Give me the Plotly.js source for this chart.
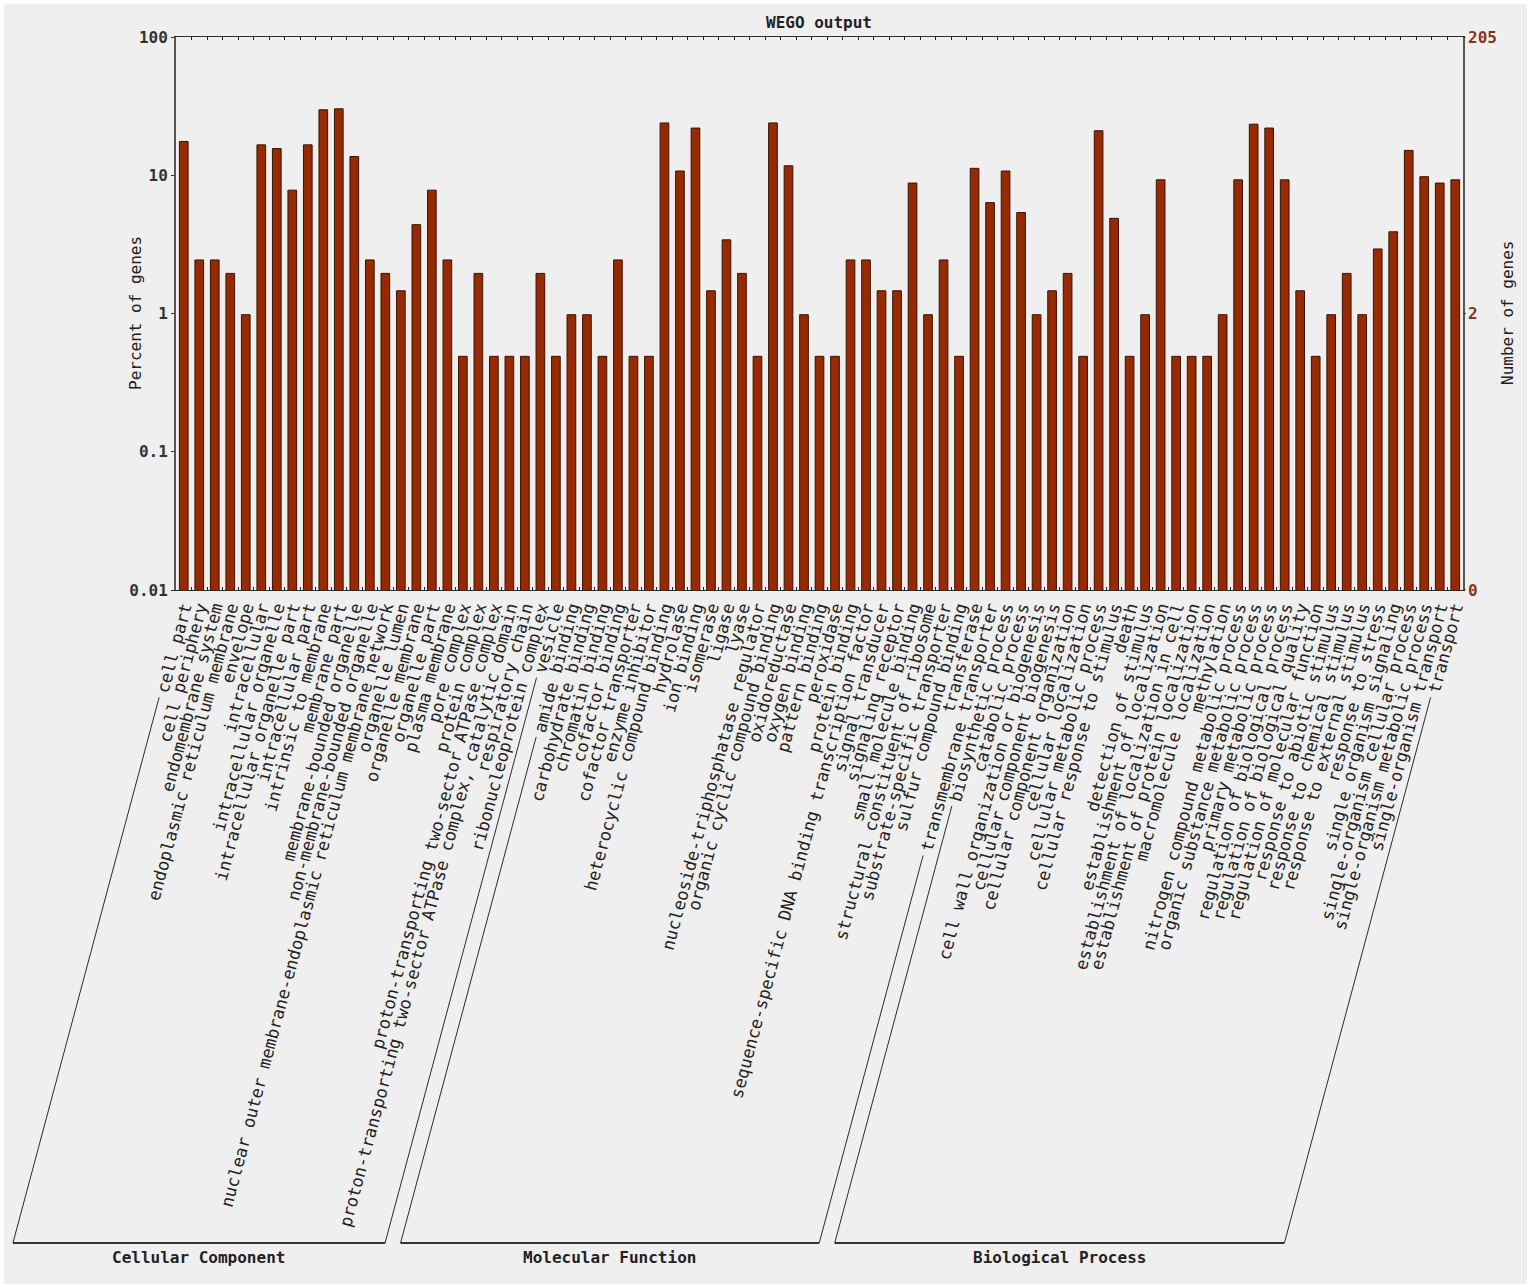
<!DOCTYPE html>
<html>
<head>
<meta charset="utf-8">
<title>WEGO output</title>
<script src="https://cdn.plot.ly/plotly-3.0.1.min.js"></script>
<style>
  html, body { margin: 0; padding: 0; background: #ffffff; }
  #wrap { position: relative; width: 1532px; height: 1287px; background: #ffffff; }
  #chart { position: absolute; left: 4px; top: 4px; width: 1523px; height: 1280px; }
</style>
</head>
<body>
<div id="wrap"><div id="chart"></div></div>
<script>
// GO terms per category, in the order WEGO drew them
const ccTerms = [
  "cell part", "cell periphery", "endomembrane system", "endoplasmic reticulum membrane",
  "envelope", "intracellular", "intracellular organelle", "intracellular organelle part",
  "intracellular part", "intrinsic to membrane", "membrane part", "membrane-bounded organelle",
  "non-membrane-bounded organelle", "nuclear outer membrane-endoplasmic reticulum membrane network",
  "organelle lumen", "organelle membrane", "organelle part", "plasma membrane", "pore complex",
  "protein complex", "proton-transporting two-sector ATPase complex",
  "proton-transporting two-sector ATPase complex, catalytic domain", "respiratory chain",
  "ribonucleoprotein complex", "vesicle",
];
const mfTerms = [
  "amide binding", "carbohydrate binding", "chromatin binding", "cofactor binding",
  "cofactor transporter", "enzyme inhibitor", "heterocyclic compound binding", "hydrolase",
  "ion binding", "isomerase", "ligase", "lyase", "nucleoside-triphosphatase regulator",
  "organic cyclic compound binding", "oxidoreductase", "oxygen binding", "pattern binding",
  "peroxidase", "protein binding", "sequence-specific DNA binding transcription factor",
  "signal transducer", "signaling receptor", "small molecule binding",
  "structural constituent of ribosome", "substrate-specific transporter",
  "sulfur compound binding", "transferase", "transmembrane transporter",
];
const bpTerms = [
  "biosynthetic process", "catabolic process", "cell wall organization or biogenesis",
  "cellular component biogenesis", "cellular component organization", "cellular localization",
  "cellular metabolic process", "cellular response to stimulus", "death", "detection of stimulus",
  "establishment of localization", "establishment of localization in cell",
  "establishment of protein localization", "macromolecule localization", "methylation",
  "nitrogen compound metabolic process", "organic substance metabolic process",
  "primary metabolic process", "regulation of biological process",
  "regulation of biological quality", "regulation of molecular function",
  "response to abiotic stimulus", "response to chemical stimulus",
  "response to external stimulus", "response to stress", "single organism signaling",
  "single-organism cellular process", "single-organism metabolic process",
  "single-organism transport", "transport",
];

// percent of genes
const ccPct = [17.56, 2.44, 2.44, 1.95, 0.98, 16.59, 15.61, 7.80, 16.59, 29.76, 30.24, 13.66,
  2.44, 1.95, 1.46, 4.39, 7.80, 2.44, 0.49, 1.95, 0.49, 0.49, 0.49, 1.95, 0.49];
const mfPct = [0.98, 0.98, 0.49, 2.44, 0.49, 0.49, 23.90, 10.73, 21.95, 1.46, 3.41, 1.95, 0.49,
  23.90, 11.71, 0.98, 0.49, 0.49, 2.44, 2.44, 1.46, 1.46, 8.78, 0.98, 2.44, 0.49, 11.22, 6.34];
const bpPct = [10.73, 5.37, 0.98, 1.46, 1.95, 0.49, 20.98, 4.88, 0.49, 0.98, 9.27, 0.49, 0.49,
  0.49, 0.98, 9.27, 23.41, 21.95, 9.27, 1.46, 0.49, 0.98, 1.95, 0.98, 2.93, 3.90, 15.12, 9.76,
  8.78, 9.27];

const groupNames = ["Cellular Component", "Molecular Function", "Biological Process"];

const leftTickVals = [0.01, 0.1, 1, 10, 100];
const leftTickText = ["0.01", "0.1", "1", "10", "100"];
// right axis: number of genes, on the same log scale
const rightTickVals = [0.01, 1, 100];
const rightTickText = ["0", "2", "205"];

const MONO = "\"DejaVu Sans Mono\", \"Liberation Mono\", monospace";
const BAR = "#962a04";
const INK = "#222222";
const RIGHT_INK = "#8a3324";

// plot box inside the 1532x1287 picture (page pixels)
const BOX = { l: 176, r: 1463, t: 37, b: 590 };
const W = BOX.r - BOX.l;
const H = BOX.b - BOX.t;

const categories = ccTerms.concat(mfTerms, bpTerms);
const values = ccPct.concat(mfPct, bpPct);
const groups = [ccTerms, mfTerms, bpTerms];

// bracket geometry: lines run along the rotated tick labels
const ANGLE = 75 * Math.PI / 180;
const CHAR_W = 10.23;
const BRACKET_Y = 1243;

function px(X) { return (X - BOX.l) / W; }
function py(Y) { return (BOX.b - Y) / H; }
function tickX(i) { return BOX.l + (i + 0.5) * W / categories.length; }
function along(i, L) {
  return {
    x: tickX(i) - Math.cos(ANGLE) * L + 4 * Math.sin(ANGLE),
    y: BOX.b + Math.sin(ANGLE) * L + 4 * Math.cos(ANGLE),
  };
}

const shapes = [];
const annotations = [];
let start = 0;
groups.forEach((terms, g) => {
  const first = start;
  const last = start + terms.length - 1;
  const lBottom = (BRACKET_Y - BOX.b - 4 * Math.cos(ANGLE)) / Math.sin(ANGLE);
  const aTop = along(first, categories[first].length * CHAR_W + 18);
  const aBot = along(first, lBottom);
  const bTop = along(last, categories[last].length * CHAR_W + 18);
  const bBot = along(last, lBottom);
  const line = { color: "#2a2a2a", width: 1 };
  shapes.push(
    { type: "line", xref: "paper", yref: "paper", x0: px(aTop.x), y0: py(aTop.y), x1: px(aBot.x), y1: py(aBot.y), line },
    { type: "line", xref: "paper", yref: "paper", x0: px(bTop.x), y0: py(bTop.y), x1: px(bBot.x), y1: py(bBot.y), line },
    { type: "line", xref: "paper", yref: "paper", x0: px(aBot.x), y0: py(aBot.y), x1: px(bBot.x), y1: py(bBot.y),
      line: { color: "#333333", width: 2 } }
  );
  annotations.push({
    xref: "paper", yref: "paper", x: px((aBot.x + bBot.x) / 2), y: py(1257),
    xanchor: "center", yanchor: "middle", showarrow: false, text: groupNames[g],
    font: { family: MONO, size: 16, color: INK, weight: "bold" },
  });
  start = last + 1;
});

// right-hand "Number of genes" scale, placed on the log axis
rightTickVals.forEach((v, k) => {
  annotations.push({
    xref: "paper", yref: "y", x: 1, y: Math.log10(v), xshift: 3,
    xanchor: "left", yanchor: "middle", showarrow: false, text: rightTickText[k],
    font: { family: MONO, size: 16, color: RIGHT_INK, weight: "bold" },
  });
  shapes.push({
    type: "line", xref: "paper", yref: "y", x0: 1, x1: 1 + 3 / W,
    y0: v, y1: v, line: { color: "#333", width: 1 },
  });
});

annotations.push(
  { xref: "paper", yref: "paper", x: px(135), y: py(313), textangle: -90, showarrow: false,
    xanchor: "center", yanchor: "middle", text: "Percent of genes",
    font: { family: MONO, size: 16, color: INK } },
  { xref: "paper", yref: "paper", x: px(1507), y: py(313), textangle: -90, showarrow: false,
    xanchor: "center", yanchor: "middle", text: "Number of genes",
    font: { family: MONO, size: 16, color: INK } }
);

const trace = {
  type: "bar",
  x: categories,
  y: values,
  marker: { color: BAR, line: { color: "#3d1200", width: 1 } },
  hovertemplate: "%{x}<br>%{y:.2f}%<extra></extra>",
};

const layout = {
  width: 1523,
  height: 1280,
  paper_bgcolor: "#efefef",
  plot_bgcolor: "#efefef",
  margin: { l: BOX.l - 4, r: 1527 - BOX.r, t: BOX.t - 4, b: 1284 - BOX.b, pad: 0 },
  showlegend: false,
  bargap: 0.44,
  font: { family: MONO, color: INK },
  title: {
    text: "WEGO output",
    x: px(819), xref: "paper", xanchor: "center",
    y: 1 - (22 - 4) / 1280, yref: "container", yanchor: "middle",
    font: { family: MONO, size: 16, color: INK, weight: "bold" },
  },
  xaxis: {
    type: "category",
    automargin: false,
    tickmode: "linear",
    tick0: 0,
    dtick: 1,
    tickangle: -75,
    tickfont: { family: MONO, size: 17, color: INK },
    ticks: "inside",
    tickson: "boundaries",
    ticklen: 3,
    tickcolor: "#222",
    showline: true,
    linecolor: "#2a2a2a",
    linewidth: 1,
    mirror: "ticks",
    showgrid: false,
    zeroline: false,
    fixedrange: true,
  },
  yaxis: {
    type: "log",
    range: [-2, 2],
    automargin: false,
    tickvals: leftTickVals,
    ticktext: leftTickText,
    tickfont: { family: MONO, size: 16, color: "#333", weight: "bold" },
    ticks: "outside",
    ticklen: 3,
    tickcolor: "#333",
    showline: true,
    linecolor: "#555",
    linewidth: 2,
    mirror: true,
    showgrid: false,
    zeroline: false,
    fixedrange: true,
  },
  shapes,
  annotations,
};

Plotly.newPlot("chart", [trace], layout, { displayModeBar: false, staticPlot: true });
</script>
</body>
</html>
